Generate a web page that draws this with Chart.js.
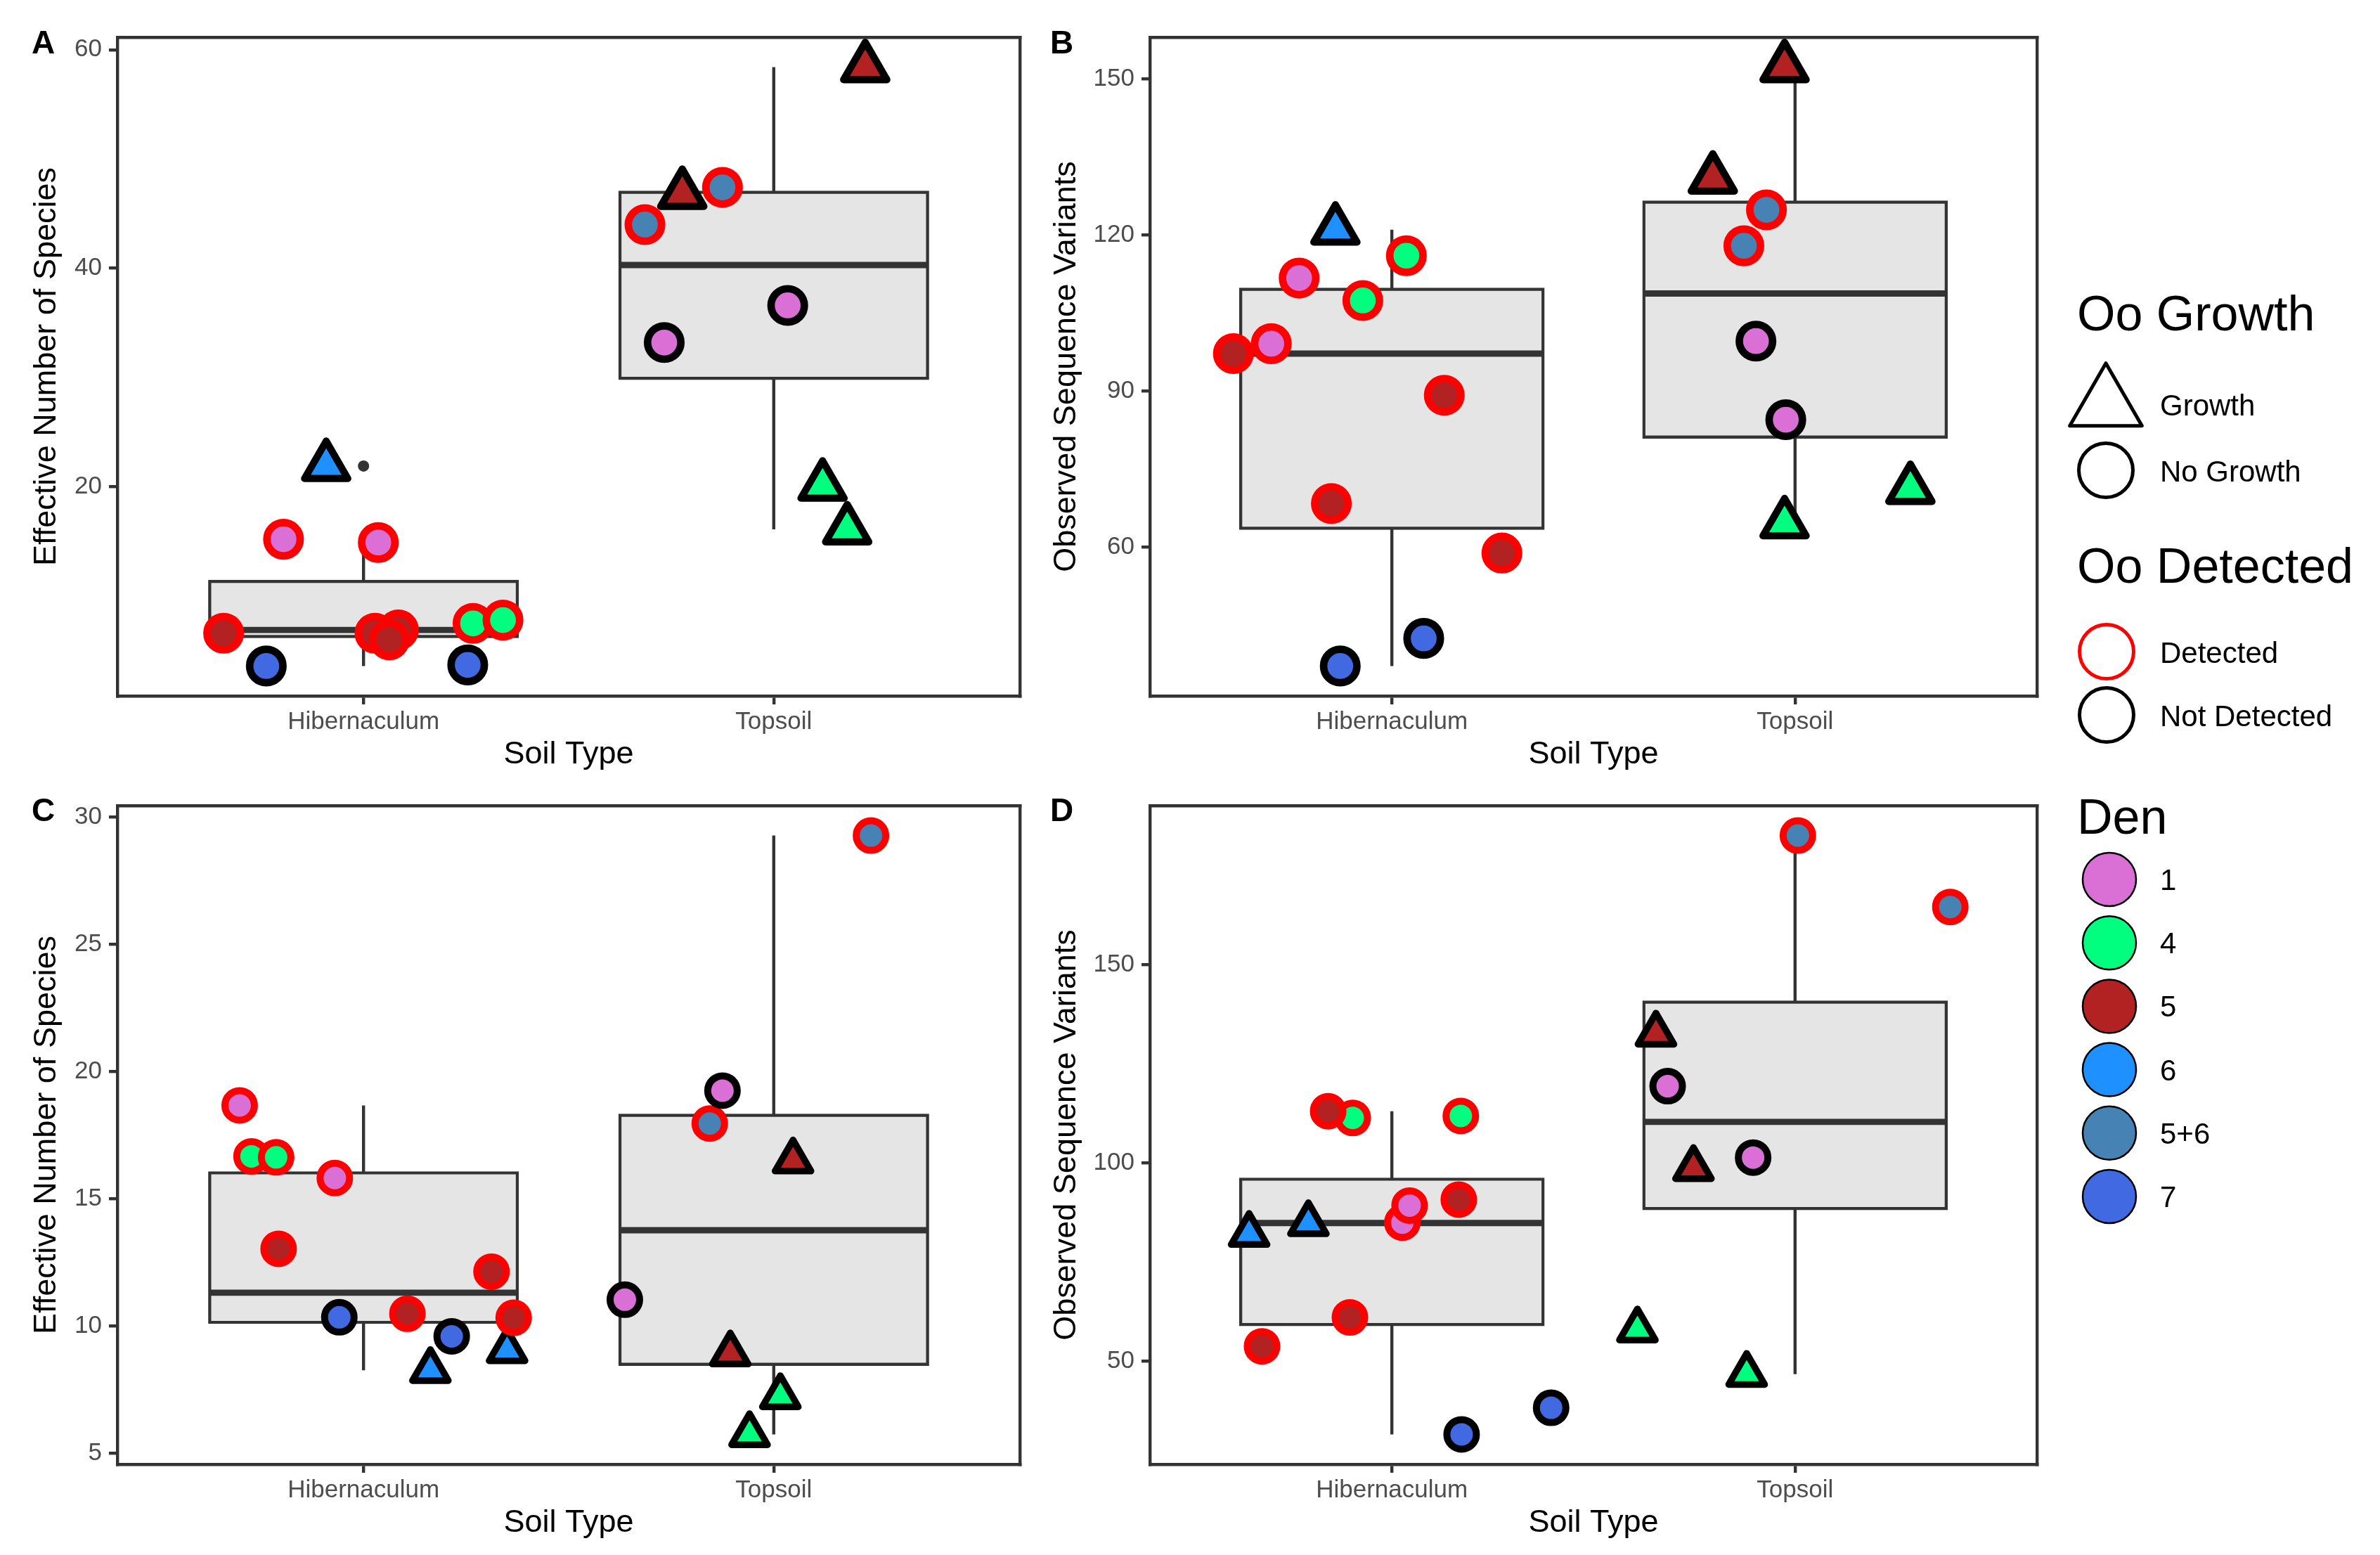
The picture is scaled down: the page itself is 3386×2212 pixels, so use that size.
<!DOCTYPE html>
<html>
<head>
<meta charset="utf-8">
<script src="https://cdn.jsdelivr.net/npm/chart.js@4.4.1/dist/chart.umd.min.js"></script>
<style>
html,body{margin:0;padding:0;background:#fff;}
#root{position:relative;width:3386px;height:2212px;overflow:hidden;background:#fff;}
#root canvas{position:absolute;}
#ov{position:absolute;left:0;top:0;pointer-events:none;}
</style>
</head>
<body>
<div id="root"></div>
<script>
// ---------------- DATA ----------------
const categories = ['Hibernaculum', 'Topsoil'];
const denLevels = ['1', '4', '5', '6', '5+6', '7'];

// Samples used in panels A and B (soil index: 1 = Hibernaculum, 2 = Topsoil)
const soil1 = [1,1,1,1,1,1,1,1,1,1,1, 2,2,2,2,2,2,2,2];
const den1 = ['6','1','1','5','5','5','5','4','4','7','7', '5','5','5+6','5+6','1','1','4','4'];
const growth1 = ['Growth','No Growth','No Growth','No Growth','No Growth','No Growth','No Growth','No Growth','No Growth','No Growth','No Growth',
                 'Growth','Growth','No Growth','No Growth','No Growth','No Growth','Growth','Growth'];
const detected1 = ['Not Detected','Detected','Detected','Detected','Detected','Detected','Detected','Detected','Detected','Not Detected','Not Detected',
                   'Not Detected','Not Detected','Detected','Detected','Not Detected','Not Detected','Not Detected','Not Detected'];

// Panel A: Effective Number of Species
const jitterA = [-0.091,-0.195,0.036,-0.341,0.028,0.085,0.063,0.267,0.340,-0.237,0.254, 0.223,-0.223,-0.125,-0.314,0.034,-0.267,0.119,0.179];
const valuesA = [21.9,15.2,14.9,6.6,6.6,6.9,6.0,7.5,7.8,3.6,3.7, 58.4,46.8,47.4,44.0,36.6,33.2,20.1,16.1];
const ticksA = [20, 40, 60];

// Panel B: Observed Sequence Variants
const jitterB = [-0.140,-0.230,-0.299,-0.393,0.130,-0.150,0.273,0.036,-0.072,0.079,-0.128, -0.026,-0.204,-0.071,-0.127,-0.097,-0.023,-0.026,0.286];
const valuesB = [121.0,111.7,99.1,97.2,89.2,68.4,58.9,116.0,107.4,42.5,37.2, 152.2,130.8,124.8,117.9,99.6,84.5,64.6,71.2];
const ticksB = [60, 90, 120, 150];

// Samples used in panels C and D
const soil2 = [1,1,1,1,1,1,1,1,1,1,1,1, 2,2,2,2,2,2,2,2];
const den2 = ['6','6','1','1','4','4','5','5','5','5','7','7', '5','5','5+6','5+6','1','1','4','4'];
const growth2 = ['Growth','Growth','No Growth','No Growth','No Growth','No Growth','No Growth','No Growth','No Growth','No Growth','No Growth','No Growth',
                 'Growth','Growth','No Growth','No Growth','No Growth','No Growth','Growth','Growth'];
const detected2 = ['Not Detected','Not Detected','Detected','Detected','Detected','Detected','Detected','Detected','Detected','Detected','Not Detected','Not Detected',
                   'Not Detected','Not Detected','Detected','Detected','Not Detected','Not Detected','Not Detected','Not Detected'];

// Panel C: Effective Number of Species
const jitterC = [0.163,0.350,-0.302,-0.070,-0.273,-0.213,-0.207,0.312,0.107,0.366,-0.059,0.215, 0.047,-0.106,0.237,-0.156,-0.125,-0.363,0.016,-0.059];
const valuesC = [8.27,9.05,18.67,15.82,16.67,16.63,13.04,12.14,10.49,10.33,10.35,9.6, 16.5,8.92,29.27,17.96,19.25,11.04,7.24,5.75];
const ticksC = [5, 10, 15, 20, 25, 30];

// Panel D: Observed Sequence Variants
const jitterD = [-0.354,-0.207,0.026,0.044,-0.097,0.171,-0.158,0.166,-0.104,-0.322,0.173,0.395, -0.345,-0.252,0.007,0.385,-0.316,-0.104,-0.391,-0.120];
const valuesD = [82.1,84.8,85.0,89.3,111.4,111.9,113.1,90.8,61.1,53.8,31.6,38.3, 132.6,98.7,182.6,164.6,119.4,101.4,58.0,46.8];
const ticksD = [50, 100, 150];

// ---------------- STYLE ----------------
const FONT = "'Liberation Sans', Arial, Helvetica, sans-serif";
const DEN_COLORS = {'1':'#DA70D6','4':'#00FF7F','5':'#B22222','6':'#1E90FF','5+6':'#4682B4','7':'#4169E1'};
const DET_COLORS = {'Detected':'#FF0000','Not Detected':'#000000'};
const LINE = '#333333';
const LW = 4.4;
Chart.defaults.font.family = FONT;

const samples1 = {soil: soil1, den: den1, growth: growth1, detected: detected1};
const samples2 = {soil: soil2, den: den2, growth: growth2, detected: detected2};
const bigPts = {circR: 23.7, circW: 10.7, triR: 35.5, triW: 10.2};
const smallPts = {circR: 21, circW: 10, triR: 29.5, triW: 9.5};

const PANELS = [
  {label:'A', canvas:[0,0,1500,1106], area:[167,53,1451,990], yTitle:'Effective Number of Species', yTitleX:67,
   jitter:jitterA, values:valuesA, ticks:ticksA, samples:samples1, pts:bigPts},
  {label:'B', canvas:[1480,0,1480,1106], area:[1636,53,2898,990], yTitle:'Observed Sequence Variants', yTitleX:1518,
   jitter:jitterB, values:valuesB, ticks:ticksB, samples:samples1, pts:bigPts},
  {label:'C', canvas:[0,1106,1500,1106], area:[167,1146,1451,2083], yTitle:'Effective Number of Species', yTitleX:67,
   jitter:jitterC, values:valuesC, ticks:ticksC, samples:samples2, pts:smallPts},
  {label:'D', canvas:[1480,1106,1480,1106], area:[1636,1146,2898,2083], yTitle:'Observed Sequence Variants', yTitleX:1518,
   jitter:jitterD, values:valuesD, ticks:ticksD, samples:samples2, pts:smallPts}
];

// ---------------- BOX STATS (ggplot / R type 7) ----------------
function q7(s, p) {
  const h = (s.length - 1) * p, lo = Math.floor(h), hi = Math.ceil(h);
  return s[lo] + (h - lo) * (s[hi] - s[lo]);
}
function boxStats(vals) {
  const s = [...vals].sort((a, b) => a - b);
  const q1 = q7(s, 0.25), med = q7(s, 0.5), q3 = q7(s, 0.75), iqr = q3 - q1;
  const lf = q1 - 1.5 * iqr, uf = q3 + 1.5 * iqr;
  const inside = s.filter(v => v >= lf && v <= uf);
  return {q1, med, q3, lo: Math.min(...inside), hi: Math.max(...inside), out: s.filter(v => v < lf || v > uf)};
}

const roundJoin = {
  id: 'roundJoin',
  beforeDatasetDraw(chart) { chart.ctx.lineJoin = 'round'; },
  afterDatasetsDraw(chart) { chart.ctx.lineJoin = 'miter'; }
};

const root = document.getElementById('root');

function buildPanel(p) {
  const [cl, ct, cw, ch] = p.canvas;
  const [al, at, ar, ab] = p.area;
  const want = {left: al - cl, top: at - ct, right: ar - cl, bottom: ab - ct};
  const cv = document.createElement('canvas');
  cv.width = cw; cv.height = ch;
  cv.style.left = cl + 'px'; cv.style.top = ct + 'px';
  cv.style.width = cw + 'px'; cv.style.height = ch + 'px';
  root.appendChild(cv);

  const s = p.samples;
  const points = p.values.map((v, i) => ({x: s.soil[i] + p.jitter[i], y: v}));
  const groups = [1, 2].map(g => boxStats(p.values.filter((v, i) => s.soil[i] === g)));
  const mn = Math.min(...p.values), mx = Math.max(...p.values), ex = (mx - mn) * 0.05;
  const BW = 0.75;

  const boxData = groups.map((g, i) => ({x: i + 1, y: [g.q1, g.q3]}));
  const medData = [], whiskData = [], outData = [];
  groups.forEach((g, i) => {
    if (i) { medData.push({x: i + 0.5, y: null}); whiskData.push({x: i + 0.5, y: null}); }
    medData.push({x: i + 1 - BW / 2, y: g.med}, {x: i + 1 + BW / 2, y: g.med});
    whiskData.push({x: i + 1, y: g.lo}, {x: i + 1, y: g.hi});
    g.out.forEach(v => outData.push({x: i + 1, y: v}));
  });

  // layout state (adjusted below so that the plotting area lands exactly where wanted)
  const st = {yW: want.left, xH: ch - want.bottom, padTop: want.top, padRight: cw - want.right};

  const titleFont = {family: FONT, size: 45};
  const tickFont = {family: FONT, size: 35};
  const gridOpts = {display: true, drawOnChartArea: false, drawTicks: true, tickLength: 12,
                    tickWidth: LW, tickColor: LINE, color: LINE, lineWidth: LW, offset: false};
  const borderOpts = {display: true, color: LINE, width: LW};

  function makeOptions() {
    return {
      responsive: false, animation: false, devicePixelRatio: 1, events: [],
      layout: {padding: {left: 0, top: st.padTop, right: st.padRight, bottom: 0}},
      plugins: {legend: {display: false}, tooltip: {enabled: false}},
      scales: {
        x: {type: 'linear', position: 'bottom', min: 0.4, max: 2.6, offset: false, z: 1,
            afterBuildTicks: sc => { sc.ticks = categories.map((c, i) => ({value: i + 1})); },
            afterFit: sc => { sc.height = st.xH; },
            ticks: {autoSkip: false, maxRotation: 0, minRotation: 0, padding: 4, color: '#4D4D4D', font: tickFont,
                    callback: (v, i) => categories[i]},
            grid: gridOpts, border: borderOpts,
            title: {display: true, text: 'Soil Type', color: '#000000', font: titleFont,
                    padding: {top: 0, bottom: Math.max(0, st.xH - 84 - 27)}}},
        y: {type: 'linear', position: 'left', min: mn - ex, max: mx + ex, beginAtZero: false, z: 1,
            afterBuildTicks: sc => { sc.ticks = p.ticks.map(v => ({value: v})); },
            afterFit: sc => { sc.width = st.yW; },
            ticks: {padding: 10, color: '#4D4D4D', font: tickFont, callback: v => String(v)},
            grid: gridOpts, border: borderOpts,
            title: {display: true, text: p.yTitle, color: '#000000', font: titleFont,
                    padding: {top: p.yTitleX - cl - 27, bottom: 0}}},
        xTop: {type: 'linear', position: 'top', display: true, z: 1,
               ticks: {display: false}, grid: {display: false, drawTicks: false, lineWidth: LW}, border: borderOpts,
               afterFit: sc => { sc.height = 0; }},
        yRight: {type: 'linear', position: 'right', display: true, z: 1,
                 ticks: {display: false}, grid: {display: false, drawTicks: false, lineWidth: LW}, border: borderOpts,
                 afterFit: sc => { sc.width = 0; }}
      }
    };
  }

  const chart = new Chart(cv, {
    type: 'bar',
    data: {
      datasets: [
        {type: 'scatter', data: points, order: 0, clip: false, xAxisID: 'x', yAxisID: 'y',
         pointStyle: s.growth.map(g => g === 'Growth' ? 'triangle' : 'circle'),
         pointRadius: s.growth.map(g => g === 'Growth' ? p.pts.triR : p.pts.circR),
         pointHoverRadius: s.growth.map(g => g === 'Growth' ? p.pts.triR : p.pts.circR),
         pointBorderWidth: s.growth.map(g => g === 'Growth' ? p.pts.triW : p.pts.circW),
         pointHoverBorderWidth: s.growth.map(g => g === 'Growth' ? p.pts.triW : p.pts.circW),
         pointBackgroundColor: s.den.map(d => DEN_COLORS[d]),
         pointBorderColor: s.detected.map(d => DET_COLORS[d])},
        {type: 'scatter', data: outData, order: 1, clip: false, xAxisID: 'x', yAxisID: 'y',
         pointStyle: 'circle', pointRadius: 8, pointBorderWidth: 0, pointBackgroundColor: LINE, pointBorderColor: LINE},
        {type: 'line', data: medData, order: 2, xAxisID: 'x', yAxisID: 'y', spanGaps: false,
         borderColor: LINE, borderWidth: 8.9, pointRadius: 0, fill: false, borderCapStyle: 'butt'},
        {type: 'bar', data: boxData, order: 3, xAxisID: 'x', yAxisID: 'y',
         backgroundColor: '#E5E5E5', borderColor: LINE, borderWidth: LW, borderSkipped: false,
         inflateAmount: LW / 2, barPercentage: BW, categoryPercentage: 1, grouped: false},
        {type: 'line', data: whiskData, order: 4, xAxisID: 'x', yAxisID: 'y', spanGaps: false,
         borderColor: LINE, borderWidth: LW, pointRadius: 0, fill: false, borderCapStyle: 'butt'}
      ]
    },
    options: makeOptions(),
    plugins: [roundJoin]
  });

  // nudge the layout until chart.chartArea matches the wanted plotting rectangle
  for (let k = 0; k < 6; k++) {
    const ca = chart.chartArea;
    const dl = want.left - ca.left, dt = want.top - ca.top;
    const dr = ca.right - want.right, db = ca.bottom - want.bottom;
    if (Math.abs(dl) < 0.3 && Math.abs(dt) < 0.3 && Math.abs(dr) < 0.3 && Math.abs(db) < 0.3) break;
    st.yW = Math.max(1, st.yW + dl);
    st.padTop = Math.max(0, st.padTop + dt);
    st.padRight = Math.max(0, st.padRight + dr);
    st.xH = Math.max(1, st.xH + db);
    chart.options = makeOptions();
    chart.update();
  }
}

PANELS.forEach(buildPanel);

// ---------------- OVERLAY TEXT: panel tags + legend ----------------
const NS = 'http://www.w3.org/2000/svg';
const svg = document.createElementNS(NS, 'svg');
svg.setAttribute('id', 'ov');
svg.setAttribute('width', '3386'); svg.setAttribute('height', '2212');
root.appendChild(svg);
function el(tag, attrs, text) {
  const e = document.createElementNS(NS, tag);
  for (const k in attrs) e.setAttribute(k, attrs[k]);
  if (text !== undefined) e.textContent = text;
  svg.appendChild(e);
  return e;
}
function txt(x, y, size, str, weight) {
  return el('text', {x, y, 'font-family': FONT, 'font-size': size, 'font-weight': weight || 'normal', fill: '#000'}, str);
}

const tagPos = {A: [45, 76], B: [1494, 76], C: [45, 1168], D: [1494, 1168]};
PANELS.forEach(p => txt(tagPos[p.label][0], tagPos[p.label][1], 46, p.label, 'bold'));

const LX = 2955, TX = 3073;
txt(LX, 470, 70, 'Oo Growth');
const tcx = 2996, tcy = 576, tr = 59.3;
el('polygon', {points: [[tcx, tcy - tr], [tcx + tr * Math.sin(2 * Math.PI / 3), tcy + tr / 2], [tcx - tr * Math.sin(2 * Math.PI / 3), tcy + tr / 2]].map(q => q.join(',')).join(' '),
  fill: 'none', stroke: '#000', 'stroke-width': 5, 'stroke-linejoin': 'round'});
txt(TX, 591, 42, 'Growth');
el('circle', {cx: 2996, cy: 669, r: 38.5, fill: 'none', stroke: '#000', 'stroke-width': 5});
txt(TX, 685, 42, 'No Growth');

txt(LX, 829, 70, 'Oo Detected');
el('circle', {cx: 2997, cy: 927, r: 38.5, fill: 'none', stroke: DET_COLORS['Detected'], 'stroke-width': 5});
txt(TX, 943, 42, 'Detected');
el('circle', {cx: 2997, cy: 1017, r: 38.5, fill: 'none', stroke: DET_COLORS['Not Detected'], 'stroke-width': 5});
txt(TX, 1033, 42, 'Not Detected');

txt(LX, 1186, 70, 'Den');
denLevels.forEach((d, i) => {
  const cy = 1251 + 90.2 * i;
  el('circle', {cx: 3001, cy, r: 38, fill: DEN_COLORS[d], stroke: '#000', 'stroke-width': 2.5});
  txt(TX, cy + 15, 42, d);
});
</script>
</body>
</html>
